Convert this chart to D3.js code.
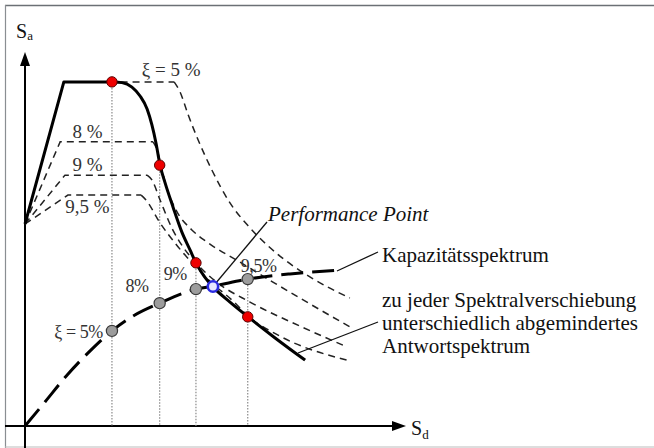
<!DOCTYPE html>
<html>
<head>
<meta charset="utf-8">
<script src="https://cdn.jsdelivr.net/npm/d3@7/dist/d3.min.js"></script>
<style>
  body { margin: 0; background: #fff; }
</style>
</head>
<body>
<div id="chart"></div>
<script>
// spectral displacement Sd / spectral acceleration Sa, arbitrary units 0..100
let dampingLabels = ["ξ = 5 %", "8 %", "9 %", "9,5 %"];
let capacityLabels = ["ξ = 5%", "8%", "9%", "9,5%"];

// rising branch + plateau of each damped response spectrum
let ramp5 = [[0, 54.6], [10.5, 93.0], [40.3, 93.0]];
let ramp8 = [[0, 54.6], [9.5, 76.8], [34.6, 76.8]];
let ramp9 = [[0, 54.6], [10.8, 67.8], [33.0, 67.8]];
let ramp95 = [[0, 54.6], [11.6, 62.4], [31.4, 62.4]];

// descending branches
let desc5 = [[40.3, 93.0], [41.9, 90.3], [44.1, 84.1], [46.8, 77.3], [50.5, 69.2], [55.4, 60.3],
             [60.3, 54.1], [67.6, 47.0], [77.0, 40.3], [87.8, 34.6]];
let desc8 = [[34.6, 76.8], [35.7, 74.6], [36.8, 70.3], [38.1, 65.1], [40.8, 58.4], [45.1, 53.0],
             [49.2, 49.7], [58.1, 44.3], [67.0, 38.9], [77.0, 33.0], [87.8, 26.8]];
let desc9 = [[33.0, 67.8], [34.3, 66.5], [36.5, 61.1], [39.7, 53.5], [42.7, 48.4], [46.2, 44.1],
             [51.4, 39.2], [60.8, 33.5], [74.3, 27.0], [87.0, 21.4]];
let desc95 = [[31.4, 62.4], [32.7, 61.1], [36.5, 54.9], [41.4, 48.4], [46.2, 43.0], [50.8, 38.4],
              [56.2, 33.8], [60.3, 29.7], [68.9, 24.3], [87.0, 17.8]];

// differently reduced response spectrum (thick line)
let reducedRamp = [[0, 54.6], [10.5, 93.0], [23.5, 93.0]];
let reducedDesc = [[23.5, 93.0], [26.2, 92.8], [28.9, 91.6], [31.1, 89.2], [33.0, 85.7], [34.3, 81.4],
                   [35.4, 76.5], [36.5, 70.5], [37.8, 65.9], [40.0, 59.2], [42.4, 52.4], [44.6, 47.6],
                   [46.2, 44.1], [48.4, 40.5], [50.8, 37.6], [55.4, 33.5], [60.3, 29.5], [67.6, 23.8],
                   [75.7, 17.8]];

// capacity spectrum
let capacity = [[0, 0], [5.4, 6.5], [11.4, 13.8], [17.6, 20.3], [23.5, 25.7], [29.7, 30.0],
                [36.4, 33.2], [46.2, 37.0], [50.8, 37.8], [60.2, 39.7], [71.6, 41.1], [85.9, 42.2]];

// trial points
let trialSd = [23.5, 36.4, 46.2, 60.2];
let trialCapSa = [25.7, 33.2, 37.0, 39.7];
let trialSpecSa = [93.0, 70.5, 44.1, 29.5];
let perfPoint = [50.8, 37.7];

let drawGraph = function() {
    let w = 654, h = 448;

    let svg = d3.select("#chart")
      .append("svg")
        .attr("width", w)
        .attr("height", h)
        .attr("font-family", "'Liberation Serif', 'Times New Roman', 'DejaVu Serif', serif");

    let x = d3.scaleLinear().domain([0, 100]).range([25, 395]),
        y = d3.scaleLinear().domain([0, 100]).range([426, 56]);

    // frame
    svg.append("line").attr("x1", 5).attr("y1", 5.5).attr("x2", w).attr("y2", 5.5)
        .attr("stroke", "#6b7075").attr("stroke-width", 1.6);
    svg.append("line").attr("x1", 5.5).attr("y1", 5).attr("x2", 5.5).attr("y2", h)
        .attr("stroke", "#8a8e92").attr("stroke-width", 1.2);
    svg.append("line").attr("x1", 5).attr("y1", 447).attr("x2", w).attr("y2", 447)
        .attr("stroke", "#bbbbbb").attr("stroke-width", 1);

    // axes with arrows
    let x0 = x(0), y0 = y(0);
    svg.append("line").attr("x1", x0).attr("y1", h).attr("x2", x0).attr("y2", 62)
        .attr("stroke", "#000").attr("stroke-width", 2);
    svg.append("path").attr("d", `M${x0},52 L${x0 - 5},66 L${x0 + 5},66 Z`).attr("fill", "#000");
    svg.append("line").attr("x1", 5).attr("y1", y0).attr("x2", 396).attr("y2", y0)
        .attr("stroke", "#000").attr("stroke-width", 2);
    svg.append("path").attr("d", `M406,${y0} L392,${y0 - 5} L392,${y0 + 5} Z`).attr("fill", "#000");

    let sa = svg.append("text").attr("x", 16).attr("y", 38).attr("font-size", 20).attr("fill", "#111");
    sa.append("tspan").text("S");
    sa.append("tspan").attr("font-size", 13).attr("dy", 2).text("a");
    let sd = svg.append("text").attr("x", 411).attr("y", 435).attr("font-size", 20).attr("fill", "#111");
    sd.append("tspan").text("S");
    sd.append("tspan").attr("font-size", 13).attr("dy", 4).text("d");

    // dotted verticals from trial points to the Sd axis
    svg.selectAll("line.drop")
        .data(trialSd)
      .enter().append("line")
        .attr("class", "drop")
        .attr("x1", function(d) { return x(d); })
        .attr("x2", function(d) { return x(d); })
        .attr("y1", function(d, i) { return y(Math.max(trialCapSa[i], trialSpecSa[i])); })
        .attr("y2", y0)
        .attr("stroke", "#8a8a8a")
        .attr("stroke-width", 1.2)
        .attr("stroke-dasharray", "1.5,1.5");

    let lin = d3.line().x(function(d) { return x(d[0]); }).y(function(d) { return y(d[1]); });
    let smooth = d3.line().curve(d3.curveMonotoneX)
        .x(function(d) { return x(d[0]); }).y(function(d) { return y(d[1]); });

    // damped response spectra (dashed)
    let ramps = [ramp5, ramp8, ramp9, ramp95],
        descs = [desc5, desc8, desc9, desc95];
    ramps.forEach(function(r, i) {
        [lin(r), smooth(descs[i])].forEach(function(dd) {
            svg.append("path").attr("d", dd)
                .attr("fill", "none").attr("stroke", "#222")
                .attr("stroke-width", 1.5).attr("stroke-dasharray", "7,5");
        });
    });

    // reduced spectrum (thick)
    [lin(reducedRamp), smooth(reducedDesc)].forEach(function(dd) {
        svg.append("path").attr("d", dd)
            .attr("fill", "none").attr("stroke", "#000")
            .attr("stroke-width", 3).attr("stroke-linejoin", "round");
    });

    // capacity spectrum
    svg.append("path").attr("d", smooth(capacity))
        .attr("fill", "none").attr("stroke", "#000")
        .attr("stroke-width", 3).attr("stroke-dasharray", "22,9");

    // leader lines
    let leaders = [
        [[perfPoint[0], perfPoint[1]], [x.invert(267), y.invert(222)]],
        [[x.invert(337), y.invert(271)], [x.invert(378), y.invert(252)]],
        [[x.invert(298), y.invert(353)], [x.invert(378), y.invert(322)]]
    ];
    leaders.forEach(function(l) {
        svg.append("path").attr("d", lin(l))
            .attr("stroke", "#111").attr("stroke-width", 1.3);
    });

    // points
    svg.selectAll("circle.spec")
        .data(trialSd)
      .enter().append("circle")
        .attr("class", "spec")
        .attr("cx", function(d) { return x(d); })
        .attr("cy", function(d, i) { return y(trialSpecSa[i]); })
        .attr("r", 5.2)
        .attr("fill", "#ee0000")
        .attr("stroke", "#5a0000")
        .attr("stroke-width", 1);
    svg.selectAll("circle.cap")
        .data(trialSd)
      .enter().append("circle")
        .attr("class", "cap")
        .attr("cx", function(d) { return x(d); })
        .attr("cy", function(d, i) { return y(trialCapSa[i]); })
        .attr("r", 5.6)
        .attr("fill", "#9c9c9c")
        .attr("stroke", "#3a3a3a")
        .attr("stroke-width", 1.2);
    svg.append("circle")
        .attr("cx", x(perfPoint[0])).attr("cy", y(perfPoint[1]))
        .attr("r", 5.2)
        .attr("fill", "#e8e8ff")
        .attr("stroke", "#2b2be0")
        .attr("stroke-width", 2.6);

    // damping labels on the spectra
    let dampPos = [[x(40.3) - 3, y(93.0) - 6], [x(16.9), y(76.8) - 3.5], [x(16.9), y(67.8) - 4], [x(16.9), y(62.4) + 18]];
    svg.selectAll("text.damp")
        .data(dampingLabels)
      .enter().append("text")
        .attr("class", "damp")
        .attr("x", function(d, i) { return dampPos[i][0]; })
        .attr("y", function(d, i) { return dampPos[i][1]; })
        .attr("text-anchor", "middle")
        .attr("font-size", 19)
        .attr("fill", "#333")
        .text(function(d) { return d; });

    // labels on the capacity points
    let capOff = [[-9, 7, "end"], [-11, -11, "end"], [-9, -9, "end"], [-7, -7, "start"]];
    svg.selectAll("text.cap")
        .data(capacityLabels)
      .enter().append("text")
        .attr("class", "cap")
        .attr("x", function(d, i) { return x(trialSd[i]) + capOff[i][0]; })
        .attr("y", function(d, i) { return y(trialCapSa[i]) + capOff[i][1]; })
        .attr("text-anchor", function(d, i) { return capOff[i][2]; })
        .attr("font-size", 18)
        .attr("letter-spacing", -0.4)
        .attr("fill", "#333")
        .text(function(d) { return d; });

    svg.append("text").attr("x", 268).attr("y", 221)
        .attr("font-size", 21).attr("font-style", "italic").attr("fill", "#111")
        .text("Performance Point");

    let notes = [
        ["Kapazitätsspektrum", 262],
        ["zu jeder Spektralverschiebung", 307],
        ["unterschiedlich abgemindertes", 330],
        ["Antwortspektrum", 353]
    ];
    svg.selectAll("text.note")
        .data(notes)
      .enter().append("text")
        .attr("class", "note")
        .attr("x", 382)
        .attr("y", function(d) { return d[1]; })
        .attr("font-size", 21)
        .attr("fill", "#111")
        .text(function(d) { return d[0]; });
};

drawGraph();
</script>
</body>
</html>
